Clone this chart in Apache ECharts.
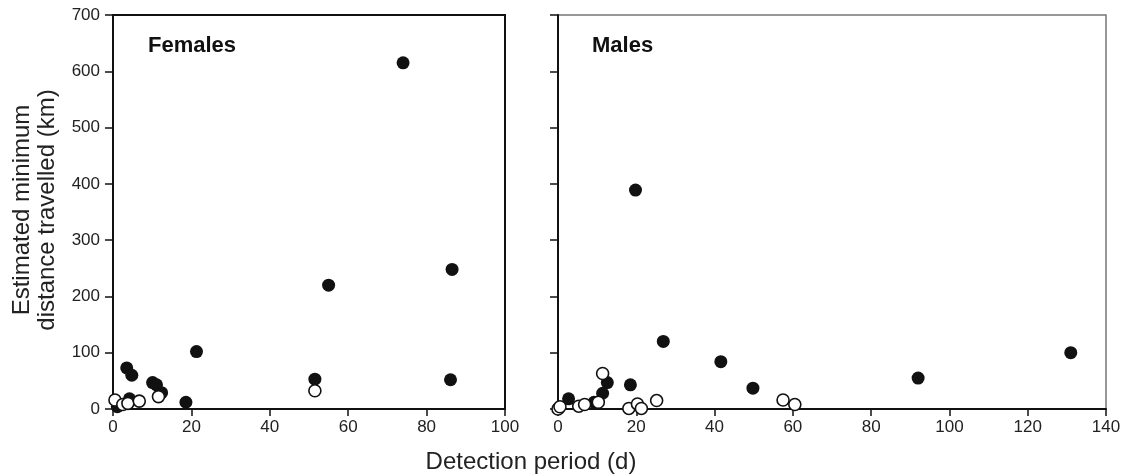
<!DOCTYPE html>
<html>
<head>
<meta charset="utf-8">
<script src="https://cdn.jsdelivr.net/npm/echarts@6/dist/echarts.min.js"></script>
<style>
html,body{margin:0;padding:0;background:#fff;}
#c{width:1127px;height:476px;}
</style>
</head>
<body>
<div id="c"></div>
<script>
// ---- data ----
const femalesFilled = [[74,615],[86.5,248],[55,220],[21.3,102],[3.5,73],[4.8,60],[10.1,47],[11.1,43],[12.4,29],[18.6,12],[4.2,18],[1.1,4],[51.5,53],[86.1,52]];
const femalesOpen = [[0.5,16],[2.5,8],[3.8,10],[6.7,14],[11.6,22],[51.5,32.5]];
const malesFilled = [[19.8,389],[26.9,120],[41.6,84],[49.8,37],[92,55],[131,100],[18.5,43],[12.6,47],[11.4,28],[2.7,18],[9.2,12]];
const malesOpen = [[0,0],[0.5,4],[5.3,5],[6.8,8],[10.3,12],[11.4,63],[18.1,1],[20.3,9],[21.3,1],[25.2,15],[57.5,16],[60.5,8]];
const panelLabels = ['Females','Males'];
const yTitle = 'Estimated minimum\ndistance travelled (km)';
const xTitle = 'Detection period (d)';

const FONT = '"Liberation Sans", Arial, Helvetica, sans-serif';
const chart = echarts.init(document.getElementById('c'), null, {renderer:'canvas'});

function xAx(idx, max){
  return {gridIndex:idx, type:'value', min:0, max:max, interval:20,
    axisLine:{show:true, onZero:false, lineStyle:{color:'#111', width:2}},
    axisTick:{show:true, inside:false, length:7, lineStyle:{color:'#111', width:1.5}},
    axisLabel:{show:true, color:'#222', fontSize:17, fontFamily:FONT, margin:10},
    splitLine:{show:false}};
}
function yAx(idx, showLabels){
  return {gridIndex:idx, type:'value', min:0, max:700, interval:100,
    axisLine:{show:true, onZero:false, lineStyle:{color:'#111', width:2}},
    axisTick:{show:true, inside:false, length:8, lineStyle:{color:'#111', width:1.5}},
    axisLabel:{show:showLabels, color:'#222', fontSize:17, fontFamily:FONT, margin:13},
    splitLine:{show:false}};
}
function filled(data, xi){
  return {type:'scatter', xAxisIndex:xi, yAxisIndex:xi, data:data, symbol:'circle', symbolSize:13,
    itemStyle:{color:'#111', borderColor:'#111', borderWidth:0, opacity:1}, z:3};
}
function open(data, xi){
  return {type:'scatter', xAxisIndex:xi, yAxisIndex:xi, data:data, symbol:'circle', symbolSize:12,
    itemStyle:{color:'#fff', borderColor:'#111', borderWidth:1.6, opacity:1}, z:4};
}

chart.setOption({
  animation:false,
  backgroundColor:'#fff',
  grid:[
    {left:113, right:622, top:15, bottom:67, show:true, borderColor:'#111', borderWidth:2, backgroundColor:'transparent'},
    {left:558, right:21, top:15, bottom:67, show:true, borderColor:'#777', borderWidth:1.5, backgroundColor:'transparent'}
  ],
  xAxis:[xAx(0,100), xAx(1,140)],
  yAxis:[yAx(0,true), yAx(1,false)],
  series:[filled(femalesFilled,0), open(femalesOpen,0), filled(malesFilled,1), open(malesOpen,1)],
  graphic:[
    {type:'text', x:148, y:46, style:{text:panelLabels[0], font:'bold 22px '+FONT, fill:'#111', textAlign:'left', textVerticalAlign:'middle'}},
    {type:'text', x:592, y:46, style:{text:panelLabels[1], font:'bold 22px '+FONT, fill:'#111', textAlign:'left', textVerticalAlign:'middle'}},
    {type:'text', x:35, y:210, rotation:Math.PI/2, style:{text:yTitle, font:'24px '+FONT, fill:'#222', textAlign:'center', textVerticalAlign:'middle', lineHeight:25}},
    {type:'text', x:531, y:462, style:{text:xTitle, font:'24px '+FONT, fill:'#222', textAlign:'center', textVerticalAlign:'middle'}}
  ]
});
</script>
</body>
</html>
